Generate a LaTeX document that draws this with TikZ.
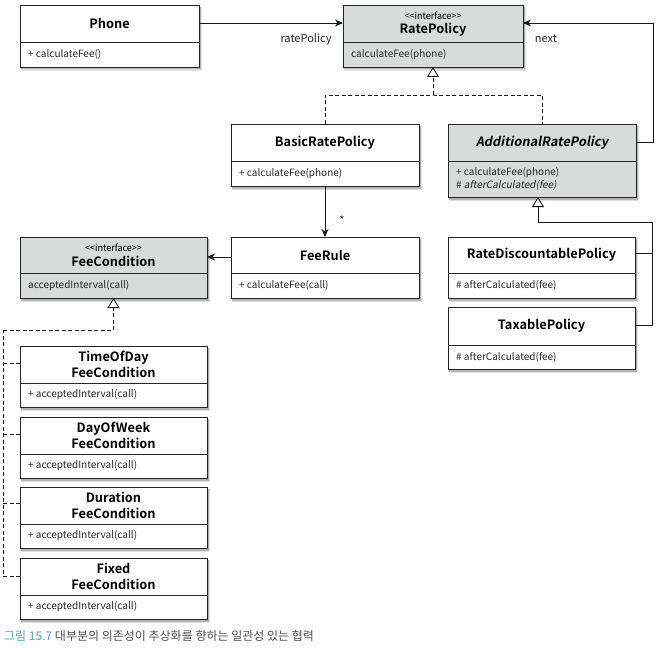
\documentclass[tikz,border=0pt]{standalone}
\usepackage{fontspec}
\setmainfont{Noto Sans CJK KR}[BoldFont={Noto Sans CJK KR Bold}, ItalicFont={Noto Sans CJK KR}, ItalicFeatures={FakeSlant=0.2}, BoldItalicFont={Noto Sans CJK KR Bold}, BoldItalicFeatures={FakeSlant=0.2}]
\usetikzlibrary{arrows.meta,fit}
\definecolor{hdrgray}{RGB}{217,218,218}
\definecolor{captea}{RGB}{70,172,182}
\definecolor{capgray}{RGB}{80,80,80}
\tikzset{
  ttl/.style={font=\fontsize{12.8bp}{15.5bp}\selectfont\bfseries, align=center, inner sep=0},
  stereo/.style={font=\fontsize{9.5bp}{10bp}\selectfont, inner sep=0, xscale=0.95},
  mem/.style={font=\fontsize{10bp}{13.5bp}\selectfont, align=left, anchor=west, inner sep=0, text=black!85},
  lbl/.style={font=\fontsize{11bp}{13bp}\selectfont, inner sep=0, text=black!85},
  boxline/.style={draw=black!85, line width=0.9bp},
  arr/.style={-{Stealth[length=8bp,width=7bp]}, line width=0.9bp, draw=black!90},
  solidinh/.style={-{Triangle[open,length=10bp,width=12bp,fill=white]}, line width=0.9bp, draw=black!90},
  dsh/.style={dash pattern=on 4bp off 2.5bp, line width=0.9bp, draw=black!90},
  dshinh/.style={dsh, -{Triangle[open,length=10bp,width=12bp,fill=white]}}
}
\newcommand\umlclass[9]{%
  \fill[black,opacity=.12] (#2+0.5,#3+2) rectangle (#4+3,#5+4);
  \fill[black,opacity=.2] (#2+1,#3+2) rectangle (#4+1.8,#5+2.5);
  \node[boxline, fill=#7, fit={(#2,#3) (#4,#5)}, inner sep=0, outer sep=0] (#1) {};
  \draw[boxline] (#2,#6) -- (#4,#6);
  \node[ttl] at ({(#2+#4)/2},{(#3+#6)/2}) {#8};
  \node[mem] at (#2+8,{(#6+#5)/2}) {#9};
}
\begin{document}
\begin{tikzpicture}[x=1bp,y=-1bp]
\useasboundingbox (0,0) rectangle (659,648);

\umlclass{Phone}{20}{5}{199}{67}{42}{white}{Phone}{+ calculateFee()}
\umlclass{RatePolicy}{343}{5}{523}{67}{42}{hdrgray}{}{calculateFee(phone)}
\node[stereo] (rpst) at (433,15.5) {<\kern0pt<interface>\kern0pt>};
\node[ttl] (rpt) at (433,29.5) {RatePolicy};
\umlclass{BasicRatePolicy}{231}{124}{419}{186}{161}{white}{BasicRatePolicy}{+ calculateFee(phone)}
\umlclass{AdditionalRatePolicy}{448}{124}{636}{197}{161}{hdrgray}{\textit{AdditionalRatePolicy}}{+ calculateFee(phone)\\\# \textit{afterCalculated(fee)}}
\umlclass{FeeRule}{231}{237}{419}{298}{273}{white}{FeeRule}{+ calculateFee(call)}
\umlclass{FeeCondition}{20}{237}{207}{298}{273}{hdrgray}{}{acceptedInterval(call)}
\node[stereo] (fcst) at (113.5,247.5) {<\kern0pt<interface>\kern0pt>};
\node[ttl] (fct) at (113.5,261.5) {FeeCondition};
\umlclass{RateDiscountablePolicy}{448}{237}{635}{298}{273}{white}{RateDiscountablePolicy}{\# afterCalculated(fee)}
\umlclass{TaxablePolicy}{448}{307}{635}{369}{345}{white}{TaxablePolicy}{\# afterCalculated(fee)}
\umlclass{TimeOfDay}{20}{346}{207}{407}{383}{white}{TimeOfDay\\FeeCondition}{+ acceptedInterval(call)}
\umlclass{DayOfWeek}{20}{417}{207}{478}{454}{white}{DayOfWeek\\FeeCondition}{+ acceptedInterval(call)}
\umlclass{Duration}{20}{487}{207}{548}{524}{white}{Duration\\FeeCondition}{+ acceptedInterval(call)}
\umlclass{Fixed}{20}{558}{207}{619}{595}{white}{Fixed\\FeeCondition}{+ acceptedInterval(call)}

% associations
\draw[arr] ([yshift=-18bp]Phone.north east) -- ([yshift=-18bp]RatePolicy.north west);
\node[lbl] (lrp) at (306,39) {ratePolicy};
\draw[arr] ([yshift=-18bp]AdditionalRatePolicy.north east) -- ++(17,0) |- ([yshift=-18bp]RatePolicy.north east);
\node[lbl] (lnext) at (546,39) {next};
\draw[arr] (BasicRatePolicy.south) -- (FeeRule.north);
\node[lbl, font=\fontsize{11bp}{12bp}\selectfont] (star) at (342,220) {*};
\draw[arr] (FeeRule.west |- 0,257) -- (FeeCondition.east |- 0,257);

% realization of RatePolicy
\coordinate (rj) at (433,95);
\draw[dsh] (BasicRatePolicy.north) |- (rj) -| (AdditionalRatePolicy.north);
\draw[dshinh] (rj) -- (RatePolicy.south);

% inheritance of AdditionalRatePolicy
\coordinate (aj) at (652,222);
\draw[solidinh] (TaxablePolicy.east |- 0,325) -| (aj) -| ([xshift=-4bp]AdditionalRatePolicy.south);
\draw[line width=0.9bp, draw=black!90] (RateDiscountablePolicy.east |- 0,253) -- (aj |- 0,253);

% realization of FeeCondition
\coordinate (fj) at (3,330);
\draw[dsh] (Fixed.west |- 0,576) -| (fj);
\draw[dshinh] (fj) -| (FeeCondition.south);
\draw[dsh] (TimeOfDay.west |- 0,363) -- (fj |- 0,363);
\draw[dsh] (DayOfWeek.west |- 0,434) -- (fj |- 0,434);
\draw[dsh] (Duration.west |- 0,503) -- (fj |- 0,503);

% caption
\node[anchor=west, inner sep=0, font=\fontsize{12bp}{14bp}\selectfont] (cap) at (4,636) {\textcolor{captea}{그림 15.7} \textcolor{capgray}{대부분의 의존성이 추상화를 향하는 일관성 있는 협력}};
\end{tikzpicture}
\end{document}
